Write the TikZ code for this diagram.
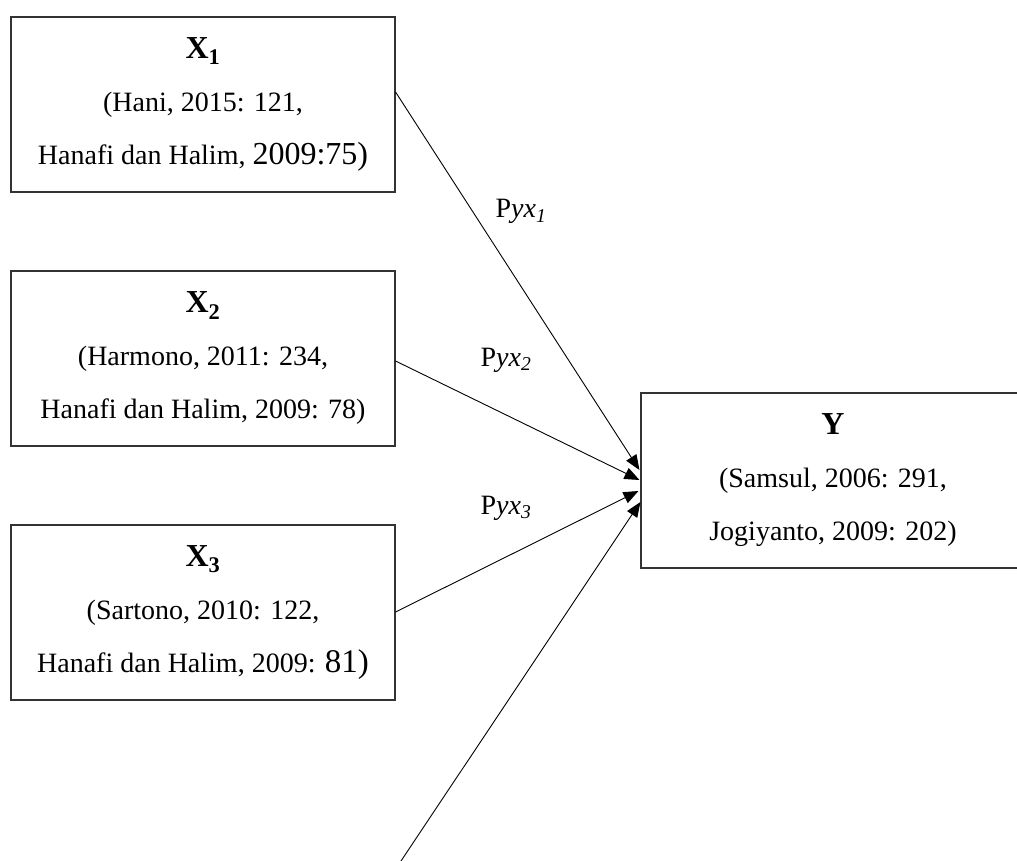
\documentclass[tikz,border=0pt]{standalone}
\usepackage{fontspec}
\setmainfont{Liberation Serif}
\usetikzlibrary{arrows.meta}
\tikzset{
  varbox/.style={draw=black!80, line width=1.1pt, minimum width=384pt, minimum height=175pt,
    inner sep=0pt, align=center, font=\fontsize{28}{53}\selectfont},
  path/.style={line width=0.9pt, -{Triangle[length=15pt,width=12pt]}},
  plabel/.style={font=\fontsize{28}{30}\selectfont, anchor=base, inner sep=0pt}
}
\newcommand{\ttl}[2]{{\fontsize{32}{53}\selectfont\bfseries #1\textsubscript{#2}}}
\begin{document}
\begin{tikzpicture}[x=1pt,y=-1pt]
\useasboundingbox (0,0) rectangle (1017,861);
\begin{scope}
\clip (0,0) rectangle (1017,861);
\node[varbox] (x1) at (203,104.5) {\ttl{X}{1}\\(Hani, 2015: 121,\\Hanafi dan Halim, {\fontsize{32}{53}\selectfont 2009:75)}};
\node[varbox] (x2) at (203,358.5) {\ttl{X}{2}\\(Harmono, 2011: 234,\\Hanafi dan Halim, 2009: 78)};
\node[varbox] (x3) at (203,612.5) {\ttl{X}{3}\\(Sartono, 2010: 122,\\Hanafi dan Halim, 2009: {\fontsize{33}{53}\selectfont 81)}};
\node[varbox] (y) at (833,480.5) {{\fontsize{32}{53}\selectfont\bfseries Y}\\(Samsul, 2006: 291,\\Jogiyanto, 2009: 202)};
\coordinate (e) at (399,864);
\draw[path] ([yshift=12.5pt]x1.east) -- ([yshift=10.5pt,xshift=-1pt]y.west);
\draw[path] ([yshift=-2.5pt]x2.east) -- ([yshift=0.5pt,xshift=-1pt]y.west);
\draw[path] ([yshift=0.5pt]x3.east) -- ([yshift=-10.5pt,xshift=-2pt]y.west);
\draw[path] (e) -- ([yshift=-21.5pt]y.west);
\node[plabel] (l1) at (521,218) {P\textit{yx}\textsubscript{\textit{1}}};
\node[plabel] (l2) at (506,366) {P\textit{yx}\textsubscript{\textit{2}}};
\node[plabel] (l3) at (506,514) {P\textit{yx}\textsubscript{\textit{3}}};
\end{scope}
\end{tikzpicture}
\end{document}
